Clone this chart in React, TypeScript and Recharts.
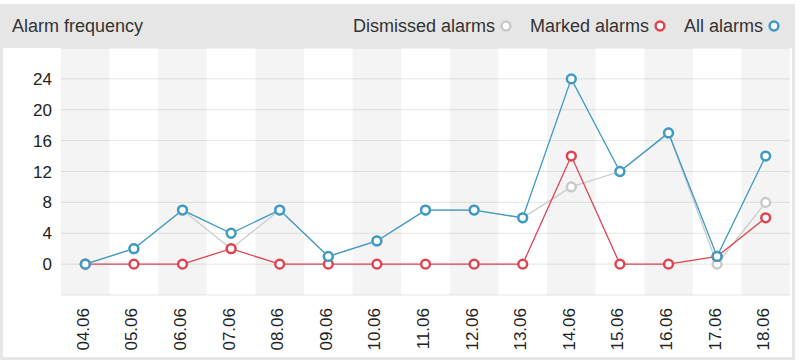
import React from 'react';
import {
  ComposedChart,
  Line,
  XAxis,
  YAxis,
  CartesianGrid,
  ReferenceArea,
} from 'recharts';

const CATEGORIES = [
  '04.06', '05.06', '06.06', '07.06', '08.06', '09.06', '10.06', '11.06',
  '12.06', '13.06', '14.06', '15.06', '16.06', '17.06', '18.06',
];
const DISMISSED_ALARMS = [0, 2, 7, 2, 7, 1, 3, 7, 7, 6, 10, 12, 17, 0, 8];
const MARKED_ALARMS = [0, 0, 0, 2, 0, 0, 0, 0, 0, 0, 14, 0, 0, 1, 6];
const ALL_ALARMS = [0, 2, 7, 4, 7, 1, 3, 7, 7, 6, 24, 12, 17, 1, 14];
const Y_TICKS = [0, 4, 8, 12, 16, 20, 24];
const Y_DOMAIN: [number, number] = [-4, 28];

const SERIES = [
  { key: 'dismissed', name: 'Dismissed alarms', color: '#cacaca' },
  { key: 'marked', name: 'Marked alarms', color: '#e0434d' },
  { key: 'all', name: 'All alarms', color: '#3c9ac4' },
];

const data = CATEGORIES.map((date, i) => ({
  date,
  dismissed: DISMISSED_ALARMS[i],
  marked: MARKED_ALARMS[i],
  all: ALL_ALARMS[i],
}));

const FONT = '"Liberation Sans", Arial, Helvetica, sans-serif';
const FRAME = '#e6e6e6';

const XTick = (props: any) => {
  const { x, y, payload } = props;
  const tx = x - 2;
  return (
    <text
      x={tx}
      y={y}
      transform={`rotate(-90 ${tx} ${y})`}
      textAnchor="end"
      dominantBaseline="central"
      fontSize={17}
      fill="#222"
      fontFamily={FONT}
    >
      {payload.value}
    </text>
  );
};

const ringDot = (color: string) => (props: any) => {
  const { cx, cy, index } = props;
  if (cx == null || cy == null) return <g key={`r${index}`} />;
  return (
    <circle
      key={`r${index}`}
      cx={cx}
      cy={cy}
      r={4.4}
      fill="#ffffff"
      stroke={color}
      strokeWidth={2.5}
    />
  );
};

const LegendRing = ({ color }: { color: string }) => (
  <svg width={12} height={12} style={{ marginLeft: 5, display: 'block' }}>
    <circle cx={6} cy={6} r={4.4} fill="#fff" stroke={color} strokeWidth={2.5} />
  </svg>
);

export default function App() {
  return (
    <div
      style={{
        position: 'absolute',
        left: 0,
        top: 0,
        width: 800,
        height: 362,
        background: '#fff',
        fontFamily: FONT,
      }}
    >
      <div
        style={{
          position: 'absolute',
          left: 0,
          top: 4,
          width: 795,
          height: 356,
          boxSizing: 'border-box',
          border: `3px solid ${FRAME}`,
          background: '#fff',
        }}
      />
      <div
        style={{
          position: 'absolute',
          left: 0,
          top: 4,
          width: 795,
          height: 44,
          background: FRAME,
        }}
      />
      <div
        style={{
          position: 'absolute',
          left: 12,
          top: 4,
          height: 44,
          display: 'flex',
          alignItems: 'center',
          fontSize: 18,
          color: '#333',
        }}
      >
        Alarm frequency
      </div>
      <div
        style={{
          position: 'absolute',
          right: 20,
          top: 4,
          height: 44,
          display: 'flex',
          alignItems: 'center',
          fontSize: 18,
          color: '#333',
        }}
      >
        {SERIES.map((s, i) => (
          <div
            key={s.key}
            style={{
              display: 'flex',
              alignItems: 'center',
              marginLeft: i === 0 ? 0 : 18,
            }}
          >
            <span>{s.name}</span>
            <LegendRing color={s.color} />
          </div>
        ))}
      </div>
      <div style={{ position: 'absolute', left: 0, top: 0 }}>
        <ComposedChart
          width={800}
          height={362}
          data={data}
          margin={{ top: 48, right: 10, bottom: 7, left: 11 }}
          style={{ fontFamily: FONT }}
        >
          {CATEGORIES.filter((_, i) => i % 2 === 0).map((c) => (
            <ReferenceArea
              key={`band-${c}`}
              x1={c}
              x2={c}
              fill="#000"
              fillOpacity={0.045}
              stroke="none"
              ifOverflow="visible"
            />
          ))}
          <CartesianGrid vertical={false} stroke="#e6e6e6" />
          <XAxis
            dataKey="date"
            scale="band"
            type="category"
            axisLine={false}
            tickLine={false}
            interval={0}
            height={60}
            tickSize={6}
            tickMargin={7}
            tick={<XTick />}
          />
          <YAxis
            type="number"
            domain={Y_DOMAIN}
            ticks={Y_TICKS}
            interval={0}
            axisLine={false}
            tickLine={false}
            width={50}
            tickSize={6}
            tickMargin={3}
            allowDataOverflow
            tick={{ fill: '#222', fontSize: 17, fontFamily: FONT }}
          />
          {SERIES.map((s) => (
            <Line
              key={`line-${s.key}`}
              dataKey={s.key}
              name={s.name}
              type="linear"
              stroke={s.color}
              strokeWidth={1.3}
              dot={ringDot(s.color)}
              activeDot={false}
              isAnimationActive={false}
              legendType="none"
            />
          ))}
        </ComposedChart>
      </div>
    </div>
  );
}
